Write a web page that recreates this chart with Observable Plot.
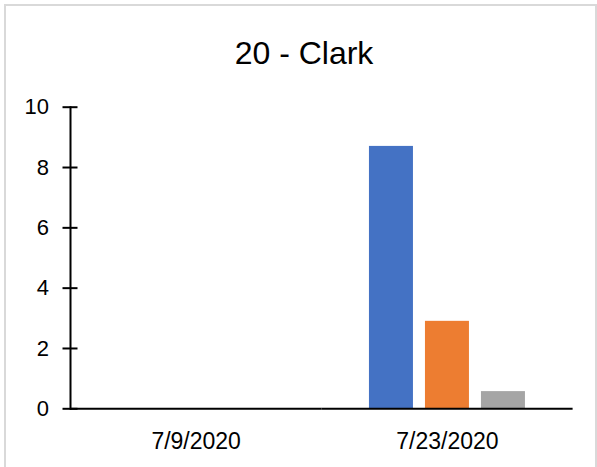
<!DOCTYPE html>
<html>
<head>
<meta charset="utf-8">
<script src="https://cdn.jsdelivr.net/npm/d3@7"></script>
<script src="https://cdn.jsdelivr.net/npm/@observablehq/plot@0.6"></script>
<style>
  html, body { margin: 0; padding: 0; background: #fff; }
  #chart { position: relative; width: 597px; height: 467px; overflow: hidden; font-family: "Liberation Sans", Arial, sans-serif; }
  #border { position: absolute; left: 4px; top: 4px; width: 589px; height: 520px; border: 2px solid #d9d9d9; }
  #title { position: absolute; left: 0; top: 35px; width: 608px; text-align: center; font-size: 32px; color: #000; white-space: nowrap; }
  #plot { position: absolute; left: 0; top: 0; }
</style>
</head>
<body>
<div id="chart">
  <div id="border"></div>
  <div id="title">20 - Clark</div>
  <div id="plot"></div>
</div>
<script>
// Report dates along the bottom, three series per date
const dates = ["7/9/2020", "7/23/2020"];
const series = ["Series1", "Series2", "Series3"];
const valuesJul9 = [0, 0, 0];
const valuesJul23 = [8.7, 2.9, 0.57];
const seriesColors = ["#4472C4", "#ED7D31", "#A5A5A5"];
const yTicks = [0, 2, 4, 6, 8, 10];

const byDate = [valuesJul9, valuesJul23];
const rows = dates.flatMap((date, i) =>
  series.map((s, j) => ({date, series: s, value: byDate[i][j]}))
);

const chart = Plot.plot({
  width: 597,
  height: 467,
  marginLeft: 70,
  marginRight: 24.4,
  marginTop: 106.7,
  marginBottom: 58.7,
  style: {fontFamily: "'Liberation Sans', Arial, sans-serif", background: "transparent", color: "#000", overflow: "visible"},
  fx: {domain: dates, paddingInner: 0, paddingOuter: 0, round: false, axis: null, label: null},
  x: {domain: series, paddingInner: 0.2143, paddingOuter: 0.851, round: false, axis: null, label: null},
  y: {domain: [0, 10], axis: null, label: null},
  color: {domain: series, range: seriesColors},
  marks: [
    Plot.barY(rows, {fx: "date", x: "series", y: "value", fill: "series"}),
    Plot.ruleY([0], {stroke: "#000", strokeWidth: 2}),
    Plot.frame({anchor: "left", facetAnchor: "left", stroke: "#000", strokeWidth: 2}),
    Plot.axisY(yTicks, {tickSize: 15, dx: 7.5, text: null, stroke: "#000", strokeWidth: 2, facetAnchor: "left"}),
    Plot.axisY(yTicks, {tickSize: 0, tickPadding: 21.5, fontSize: 22, fill: "#000", tickFormat: d => String(d), facetAnchor: "left"}),
    Plot.axisFx({anchor: "bottom", tickSize: 0, tickPadding: 24, fontSize: 23, fill: "#000", label: null})
  ]
});
document.getElementById("plot").appendChild(chart);
</script>
</body>
</html>
